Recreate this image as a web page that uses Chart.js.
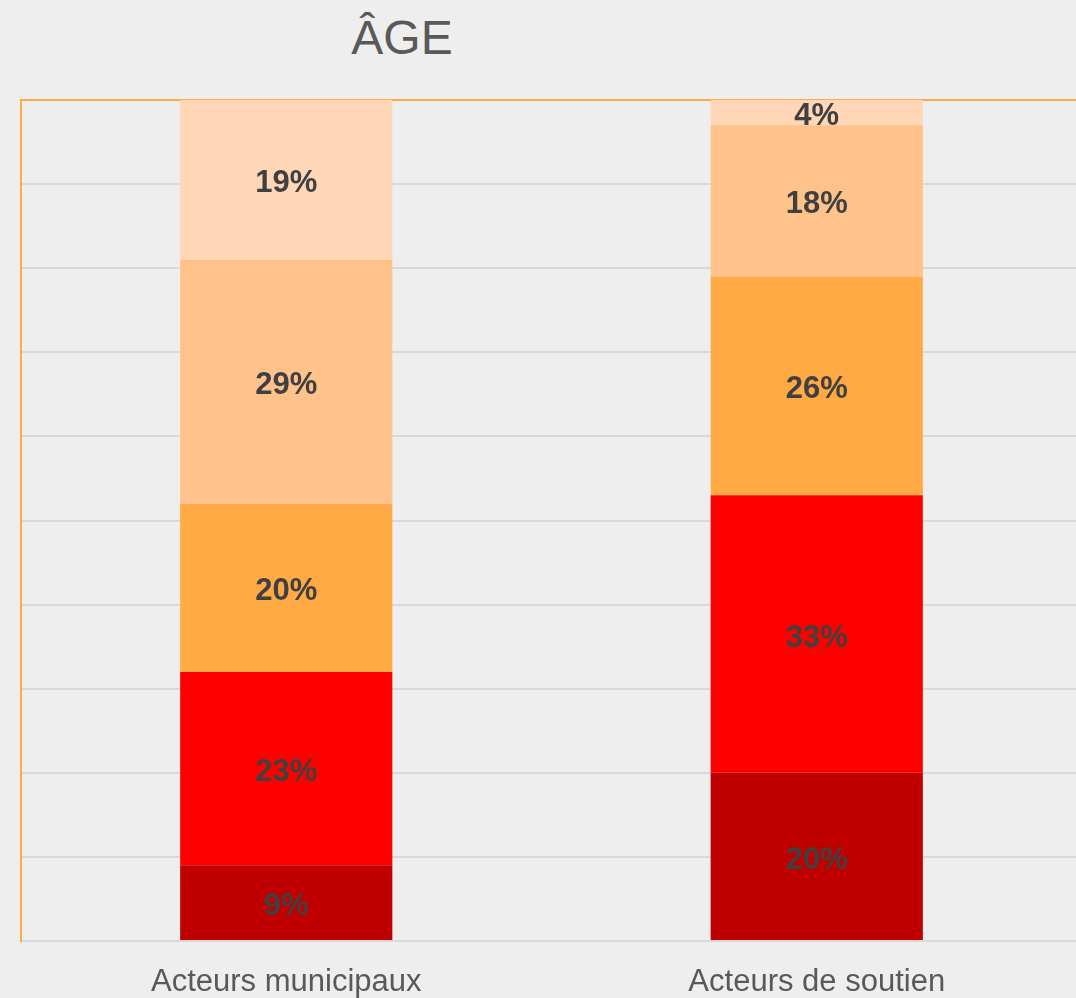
<!DOCTYPE html>
<html>
<head>
<meta charset="utf-8">
<script src="https://cdn.jsdelivr.net/npm/chart.js@4"></script>
<style>
  html, body { margin: 0; padding: 0; background: #eeeeee; overflow: hidden; }
  .wrap { position: relative; width: 1076px; height: 998px; overflow: hidden; }
  .titre {
    position: absolute; left: 302px; top: 10px; width: 200px; text-align: center;
    font-family: "Liberation Sans", Arial, sans-serif; font-size: 48px; color: #595959;
  }
  canvas { position: absolute; left: 0; top: 0; }
</style>
</head>
<body>
<div class="wrap">
  <div class="titre">ÂGE</div>
  <canvas id="chart" width="1082" height="998"></canvas>
</div>
<script>
// Répartition par tranche d'âge (%)
const categories = ['Acteurs municipaux', 'Acteurs de soutien'];
const tranche1 = [9, 20];
const tranche2 = [23, 33];
const tranche3 = [20, 26];
const tranche4 = [29, 18];
const tranche5 = [19, 4];
const couleurs = ['#C00000', '#FF0000', '#FFAA45', '#FFC28B', '#FFD6B6'];

// Libellés au centre de chaque segment (partie visible)
const etiquettes = {
  id: 'etiquettes',
  afterDatasetsDraw(chart) {
    const { ctx, chartArea } = chart;
    ctx.save();
    ctx.font = 'bold 31px "Liberation Sans", Arial, sans-serif';
    ctx.fillStyle = '#404040';
    ctx.textAlign = 'center';
    ctx.textBaseline = 'middle';
    chart.data.datasets.forEach((ds, i) => {
      const meta = chart.getDatasetMeta(i);
      meta.data.forEach((bar, j) => {
        const top = Math.max(bar.y, chartArea.top);
        const y = (top + bar.base) / 2;
        ctx.fillText(ds.data[j] + '%', bar.x, y + 4);
      });
    });
    ctx.restore();
  }
};

// Bordure orange en haut de la zone de tracé
const bordureHaut = {
  id: 'bordureHaut',
  beforeDatasetsDraw(chart) {
    const { ctx, chartArea } = chart;
    ctx.save();
    ctx.strokeStyle = '#FFAA45';
    ctx.lineWidth = 2;
    ctx.beginPath();
    ctx.moveTo(chartArea.left - 1, chartArea.top);
    ctx.lineTo(chartArea.right, chartArea.top);
    ctx.stroke();
    ctx.restore();
  }
};

const series = [tranche1, tranche2, tranche3, tranche4, tranche5];

new Chart(document.getElementById('chart'), {
  type: 'bar',
  data: {
    labels: categories,
    datasets: series.map((data, i) => ({
      label: 'Tranche ' + (i + 1),
      data,
      backgroundColor: couleurs[i],
      borderWidth: 0,
      categoryPercentage: 0.8,
      barPercentage: 0.5
    }))
  },
  options: {
    responsive: false,
    animation: false,
    layout: { padding: { top: 100, left: 0, right: 0, bottom: 0 } },
    plugins: {
      legend: { display: false },
      tooltip: { enabled: false }
    },
    scales: {
      x: {
        stacked: true,
        grid: { display: false, drawTicks: false },
        border: { color: '#d9d9d9', width: 2 },
        ticks: {
          padding: 23,
          color: '#595959',
          font: { family: '"Liberation Sans", Arial, sans-serif', size: 31 }
        },
        afterFit: s => { s.height = 57; }
      },
      y: {
        stacked: true,
        min: 0,
        max: 100,
        ticks: { display: false, stepSize: 10 },
        grid: { color: '#d9d9d9', lineWidth: 2, drawTicks: false },
        border: { color: '#FFAA45', width: 2 },
        afterFit: s => { s.width = 21; }
      }
    }
  },
  plugins: [bordureHaut, etiquettes]
});
</script>
</body>
</html>
